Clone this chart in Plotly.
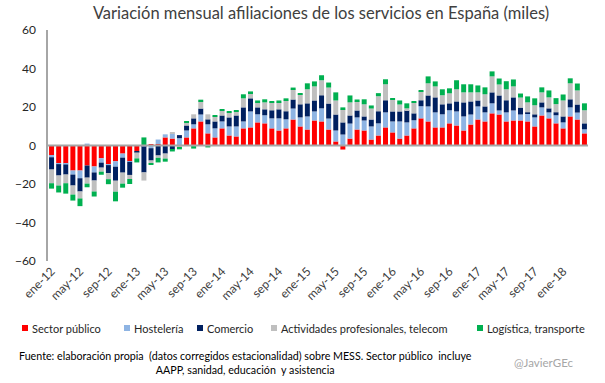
import plotly.graph_objects as go

# ---------------- data (miles) ----------------
categories = [
    "ene-12", "feb-12", "mar-12", "abr-12", "may-12", "jun-12", "jul-12", "ago-12", "sep-12", "oct-12", "nov-12", "dic-12",
    "ene-13", "feb-13", "mar-13", "abr-13", "may-13", "jun-13", "jul-13", "ago-13", "sep-13", "oct-13", "nov-13", "dic-13",
    "ene-14", "feb-14", "mar-14", "abr-14", "may-14", "jun-14", "jul-14", "ago-14", "sep-14", "oct-14", "nov-14", "dic-14",
    "ene-15", "feb-15", "mar-15", "abr-15", "may-15", "jun-15", "jul-15", "ago-15", "sep-15", "oct-15", "nov-15", "dic-15",
    "ene-16", "feb-16", "mar-16", "abr-16", "may-16", "jun-16", "jul-16", "ago-16", "sep-16", "oct-16", "nov-16", "dic-16",
    "ene-17", "feb-17", "mar-17", "abr-17", "may-17", "jun-17", "jul-17", "ago-17", "sep-17", "oct-17", "nov-17", "dic-17",
    "ene-18", "feb-18", "mar-18", "abr-18",
]

tick_labels = ["ene-12", "may-12", "sep-12", "ene-13", "may-13", "sep-13", "ene-14", "may-14", "sep-14",
               "ene-15", "may-15", "sep-15", "ene-16", "may-16", "sep-16", "ene-17", "may-17", "sep-17", "ene-18"]

y_ticks = [-60, -40, -20, 0, 20, 40, 60]

sector_publico = [
    -5.2, -9.2, -9.4, -13.0, -13.0, -10.4, -10.9, -6.6, -9.9, -8.2, -4.2, -8.3,
    -3.1, -0.3, 0.7, 0.7, 4.2, 3.6, 0.2, 4.2, 8.9, 12.5, 6.3, 4.2,
    8.9, 5.2, 4.7, 8.9, 9.4, 12.0, 11.5, 8.9, 7.8, 8.9, 13.5, 9.9,
    8.3, 13.0, 12.5, 8.3, 2.1, -2.1, 3.6, 8.3, 7.8, 3.1, 5.2, 9.4,
    6.8, 3.6, 5.2, 8.9, 14.1, 12.5, 9.4, 9.4, 11.5, 10.4, 7.8, 10.9,
    13.5, 12.5, 16.7, 16.1, 12.5, 13.0, 13.0, 12.5, 9.9, 15.6, 14.1, 11.5,
    8.9, 15.1, 13.5, 6.3,
]
hosteleria = [
    -0.9, -0.5, -0.5, -2.1, -4.0, 1.0, -3.1, -2.3, -0.3, -2.8, -2.1, -0.2,
    -0.2, -0.2, -1.4, 2.4, 1.6, 2.6, 3.6, 3.6, 2.1, 3.6, 4.7, 4.7,
    3.6, 4.7, 5.2, 3.6, 8.3, 4.2, 4.2, 5.2, 6.3, 4.7, 5.7, 4.7,
    6.8, 4.7, 6.8, 5.7, 5.7, 5.7, 7.8, 6.3, 5.2, 6.8, 6.3, 7.8,
    5.7, 8.9, 6.8, 4.2, 6.3, 7.8, 7.8, 6.8, 6.8, 7.3, 7.3, 5.2,
    6.8, 4.7, 5.2, 2.1, 4.7, 5.2, 3.1, 4.2, 4.7, 4.2, 3.1, 4.2,
    3.1, 4.7, 3.6, 2.1,
]
comercio = [
    -6.4, -5.9, -5.2, -5.7, -6.9, -6.3, -4.2, -2.6, -4.2, -7.3, -7.8, -6.8,
    -0.3, -13.5, -6.4, -5.2, -4.2, -2.1, 1.6, 2.6, 3.1, 3.1, 2.6, 3.6,
    3.1, 4.7, 5.7, 7.3, 6.8, 3.6, 3.1, 4.2, 4.7, 4.2, 4.7, 6.8,
    6.8, 5.7, 6.8, 7.8, 8.3, 6.3, 4.2, 3.6, 2.1, 3.6, 6.3, 6.3,
    5.2, 5.2, 6.3, 3.6, 3.1, 5.7, 7.8, 5.2, 3.6, 5.2, 7.3, 6.8,
    3.1, 3.1, 5.7, 7.8, 6.3, 6.8, 3.6, 0.5, 1.6, 2.6, 2.1, 1.6,
    3.1, 4.2, 4.2, 3.1,
]
actividades = [
    -7.1, -5.2, -4.5, -4.7, -3.6, -3.1, -5.7, -2.1, -3.1, -5.7, -5.7, -2.1,
    -3.1, -4.2, -1.6, -1.2, -2.6, 0.5, -1.0, 1.6, 2.1, 3.6, 2.6, 2.6,
    2.6, 2.6, 2.1, 4.7, 2.6, 2.6, 3.6, 4.2, 3.6, 5.7, 5.2, 5.2,
    7.3, 7.3, 7.8, 8.3, 7.3, 6.8, 6.8, 4.7, 6.3, 5.7, 7.8, 8.3,
    6.3, 3.6, 1.0, 5.7, 4.7, 6.3, 5.7, 4.7, 5.2, 6.3, 5.2, 4.7,
    4.2, 6.3, 8.3, 5.7, 5.7, 5.7, 5.2, 5.2, 4.7, 5.2, 5.7, 4.2,
    8.3, 8.3, 7.3, 6.8,
]
logistica = [
    -2.8, -3.6, -5.4, -3.1, -4.0, -1.9, -2.6, -1.6, -2.6, -5.0, -2.1, -2.6,
    -2.1, 4.2, -0.5, -2.4, -1.6, -1.0, -1.0, 0.5, -1.6, 1.0, -1.0, 0.5,
    0.5, 0.5, 0.5, 2.1, 1.0, 1.0, 1.6, 0.5, 1.0, 1.0, 1.0, 0.5,
    3.1, 2.6, 2.6, 2.6, 4.2, 1.0, 3.6, 1.0, 2.6, 1.6, 1.6, 2.6,
    0.5, 2.1, 2.6, 0.5, 0.5, 3.6, 2.6, 3.1, 2.6, 4.7, 4.2, 4.2,
    3.6, 3.6, 2.6, 3.1, 4.2, 3.6, 2.1, 3.1, 3.6, 2.6, 3.6, 3.1,
    3.1, 2.6, 3.6, 3.6,
]

series_names = ["Sector público", "Hostelería", "Comercio",
                "Actividades profesionales, telecom", "Logística, transporte"]
series_values = [sector_publico, hosteleria, comercio, actividades, logistica]
series_colors = ["#FF0000", "#8EB4E3", "#002060", "#BFBFBF", "#00B050"]

# ---------------- layout geometry ----------------
W, H = 605, 383
ML, MR, MT, MB = 48, 17, 30, 122
PW, PH = W - ML - MR, H - MT - MB


def px(x):
    return (x - ML) / PW


def py(y):
    return (H - MB - y) / PH


FONT = "Lato, 'DejaVu Sans', sans-serif"

fig = go.Figure()
for name, vals, col in zip(series_names, series_values, series_colors):
    fig.add_trace(go.Bar(x=categories, y=vals, name=name, marker_color=col,
                         marker_line_width=0, showlegend=False))

# manual legend (Excel-style compact squares)
legend_x = [22, 124, 197, 271, 477]
shapes = []
annotations = []
for name, col, lx in zip(series_names, series_colors, legend_x):
    shapes.append(dict(type="rect", xref="paper", yref="paper",
                       x0=px(lx), x1=px(lx + 6), y0=py(331), y1=py(325),
                       fillcolor=col, line_width=0))
    annotations.append(dict(text=name, xref="paper", yref="paper",
                            x=px(lx + 8), y=py(328), xanchor="left", yanchor="middle",
                            showarrow=False, font=dict(family=FONT, size=11, color="#262626")))

# zero (category) axis line drawn over the bars, as in the original
shapes.append(dict(type="line", xref="paper", yref="y", x0=0, x1=1, y0=0, y1=0,
                   line=dict(color="#A6A6A6", width=2), layer="above"))

annotations.append(dict(
    text="Fuente: elaboración propia \u00a0(datos corregidos estacionalidad) sobre MESS. Sector público \u00a0incluye<br>AAPP, sanidad, educación \u00a0y asistencia",
    xref="paper", yref="paper", x=px(245), y=py(362), xanchor="center", yanchor="middle",
    align="center", showarrow=False, font=dict(family=FONT, size=10.7, color="#000000")))
annotations.append(dict(
    text="@JavierGEc", xref="paper", yref="paper", x=px(544), y=py(362),
    xanchor="center", yanchor="middle", showarrow=False,
    font=dict(family=FONT, size=11.5, color="#A6A6A6")))

fig.update_layout(
    width=W, height=H,
    margin=dict(l=ML, r=MR, t=MT, b=MB, pad=0, autoexpand=False),
    barmode="relative",
    bargap=0.3,
    plot_bgcolor="white", paper_bgcolor="white",
    title=dict(text="Variación mensual afiliaciones de los servicios en España (miles)",
               x=321 / W, xanchor="center", xref="container",
               y=1 - 13 / H, yanchor="middle", yref="container",
               font=dict(family=FONT, size=16.5, color="#404040")),
    shapes=shapes,
    annotations=annotations,
    xaxis=dict(type="category", categoryorder="array", categoryarray=categories,
               tickmode="array", tickvals=tick_labels, ticktext=tick_labels,
               tickangle=-45, showline=False, showgrid=False, zeroline=False,
               automargin=False,
               ticks="", tickfont=dict(family=FONT, size=12, color="#404040")),
    yaxis=dict(range=[-60, 60], tickmode="array", tickvals=y_ticks,
               showgrid=False, zeroline=False,
               showline=True, linecolor="#A6A6A6", linewidth=1.5,
               automargin=False,
               ticks="", ticklabelstandoff=8,
               tickfont=dict(family=FONT, size=12, color="#262626")),
    font=dict(family=FONT),
)

fig.write_html("out.html", config={"displayModeBar": False},
               post_script="document.body.style.margin='0';")
